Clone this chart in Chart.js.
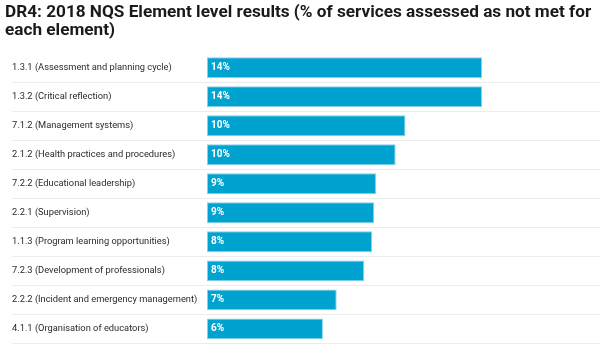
<!DOCTYPE html>
<html>
<head>
<meta charset="utf-8">
<script src="https://cdn.jsdelivr.net/npm/chart.js@4/dist/chart.umd.min.js"></script>
<style>
  html, body { margin: 0; padding: 0; background: #ffffff; }
  #wrap { position: relative; width: 600px; height: 349px; }
</style>
</head>
<body>
<div id="wrap"><canvas id="chart"></canvas></div>
<script>
// NQS elements, ordered from highest to lowest share not met
const elements = [
  '1.3.1 (Assessment and planning cycle)',
  '1.3.2 (Critical reflection)',
  '7.1.2 (Management systems)',
  '2.1.2 (Health practices and procedures)',
  '7.2.2 (Educational leadership)',
  '2.2.1 (Supervision)',
  '1.1.3 (Program learning opportunities)',
  '7.2.3 (Development of professionals)',
  '2.2.2 (Incident and emergency management)',
  '4.1.1 (Organisation of educators)'
];

// % of services assessed as not met for each element
const notMetPct = [14.0, 14.0, 10.1, 9.6, 8.6, 8.5, 8.4, 8.0, 6.6, 5.9];

const titleLines = [
  'DR4: 2018 NQS Element level results (% of services assessed as not met for',
  'each element)'
];

const FONT = 'Roboto, "Liberation Sans", Arial, sans-serif';
const BAR_BLUE = '#00a2d0';
const RULE_GREY = '#ececec';

// Writes the rounded percentage inside the start of each bar
const valueLabels = {
  id: 'valueLabels',
  afterDatasetsDraw(chart) {
    const { ctx } = chart;
    const meta = chart.getDatasetMeta(0);
    ctx.save();
    ctx.font = 'bold 10px ' + FONT;
    ctx.fillStyle = '#ffffff';
    ctx.textAlign = 'left';
    ctx.textBaseline = 'middle';
    meta.data.forEach((bar, i) => {
      const v = chart.data.datasets[0].data[i];
      ctx.fillText(Math.round(v) + '%', bar.base + 4, bar.y);
    });
    ctx.restore();
  }
};

new Chart(document.getElementById('chart'), {
  type: 'bar',
  data: {
    labels: elements,
    datasets: [{
      data: notMetPct,
      xAxisID: 'x',
      yAxisID: 'y',
      backgroundColor: BAR_BLUE,
      borderColor: '#86d0ea',
      borderWidth: 1,
      borderSkipped: false,
      barPercentage: 0.72,
      categoryPercentage: 1
    }]
  },
  options: {
    indexAxis: 'y',
    responsive: true,
    maintainAspectRatio: false,
    animation: false,
    layout: { padding: { left: 5, right: 0, top: 4, bottom: 3 } },
    plugins: {
      legend: { display: false },
      tooltip: { enabled: false },
      title: {
        display: true,
        text: titleLines,
        align: 'start',
        color: '#1a1a1a',
        font: { family: FONT, size: 17.2, weight: 'bold', lineHeight: 1.05 },
        padding: { top: 0, bottom: 13 }
      }
    },
    scales: {
      // narrow spacer that indents the category labels from the title
      indent: {
        type: 'linear',
        position: 'left',
        weight: 10,
        display: true,
        grid: { display: false, drawTicks: false },
        border: { display: false },
        ticks: { display: false },
        afterFit(scale) { scale.width = 7; }
      },
      x: {
        min: 0,
        max: 20,
        display: false
      },
      y: {
        position: 'left',
        weight: 0,
        border: { display: false },
        grid: {
          offset: true,
          drawTicks: true,
          tickLength: 195,
          lineWidth: 1,
          color: (c) => (c.index === 0 ? 'rgba(0,0,0,0)' : RULE_GREY),
          tickColor: (c) => (c.index === 0 ? 'rgba(0,0,0,0)' : RULE_GREY)
        },
        ticks: {
          crossAlign: 'far',
          color: '#2a2a2a',
          font: { family: FONT, size: 9.3 },
          padding: 0
        },
        afterFit(scale) { scale.width = 195; }
      }
    }
  },
  plugins: [valueLabels]
});
</script>
</body>
</html>
